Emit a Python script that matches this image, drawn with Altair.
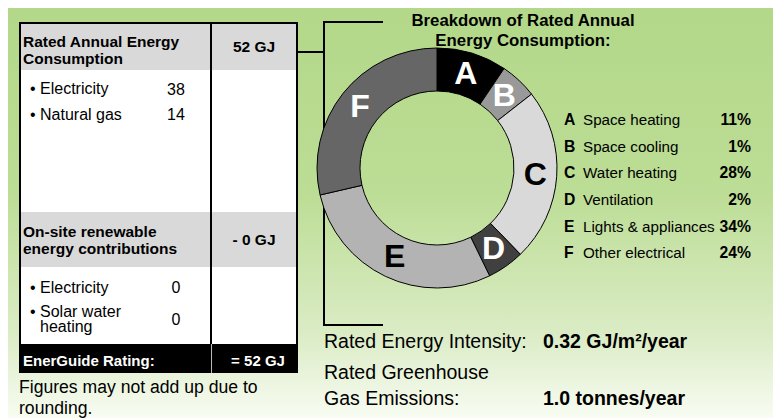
import altair as alt
import pandas as pd

# ---------------- data ----------------
letters = ["A", "B", "C", "D", "E", "F"]
uses = ["Space heating", "Space cooling", "Water heating", "Ventilation",
        "Lights & appliances", "Other electrical"]
pcts = [11, 1, 28, 2, 34, 24]
# angular size of each drawn ring slice (degrees), as read from the ring
arc_share = [34, 18, 84, 18, 103, 103]

total_gj = 52
consumption_items = ["Electricity", "Natural gas"]
consumption_vals = [38, 14]
renewable_gj = 0
renewable_items = ["Electricity", "Solar water", "heating"]
renewable_vals = [0, 0]
rating_gj = 52
intensity_txt = "0.32 GJ/m²/year"
ghg_txt = "1.0 tonnes/year"

# ---------------- styles / layout ----------------
slice_fill = ["#000000", "#999999", "#d9d9d9", "#404040", "#b3b3b3", "#666666"]
letter_color = ["#ffffff", "#ffffff", "#000000", "#ffffff", "#000000", "#ffffff"]
FONT = "Liberation Sans, Arial, sans-serif"

W, H = 765, 410
xs = alt.Scale(domain=[8, 8 + W], nice=False, zero=False)
ys = alt.Scale(domain=[8 + H, 8], nice=False, zero=False)
CX, CY = 437 - 8, 168 - 8


def texts(rows, **kw):
    df = pd.DataFrame(rows, columns=["t", "x", "y"])
    return alt.Chart(df).mark_text(baseline="alphabetic", font=FONT, **kw).encode(
        x=alt.X("x:Q", scale=xs, axis=None),
        y=alt.Y("y:Q", scale=ys, axis=None),
        text="t:N")


def rules(rows, **kw):
    df = pd.DataFrame(rows, columns=["x", "x2", "y", "y2"])
    return alt.Chart(df).mark_rule(**kw).encode(
        x=alt.X("x:Q", scale=xs, axis=None), x2="x2:Q",
        y=alt.Y("y:Q", scale=ys, axis=None), y2="y2:Q")


bg = alt.Chart(pd.DataFrame({"k": [0]})).mark_rect(
    color=alt.LinearGradient(
        gradient="linear", x1=0, x2=0, y1=0, y2=1,
        stops=[alt.GradientStop(offset=0, color="#b3d889"),
               alt.GradientStop(offset=0.45, color="#bcdd95"),
               alt.GradientStop(offset=0.8, color="#dbecc6"),
               alt.GradientStop(offset=1, color="#f8fcf2")])
).encode(x=alt.value(0), x2=alt.value(W), y=alt.value(0), y2=alt.value(H))

cells = pd.DataFrame([
    (20, 297, 22, 344, "#ffffff"),
    (20, 297, 22, 70, "#d9d9d9"),
    (20, 297, 212, 267, "#d9d9d9"),
    (19, 298, 344, 373, "#000000"),
], columns=["x", "x2", "y", "y2", "c"])
cell_layer = alt.Chart(cells).mark_rect().encode(
    x=alt.X("x:Q", scale=xs, axis=None), x2="x2:Q",
    y=alt.Y("y:Q", scale=ys, axis=None), y2="y2:Q",
    color=alt.Color("c:N", scale=None))

line_layer = rules([
    (19, 298, 23, 23),
    (20, 20, 22, 373),
    (297, 297, 22, 373),
    (211, 211, 22, 344),
    (297, 325, 52, 52),
    (324, 324, 22, 326),
    (323, 383, 22, 22),
    (323, 383, 325, 325),
], color="black", strokeWidth=2)
div = rules([(211.5, 211.5, 344, 373)], color="#bbbbbb", strokeWidth=1)

ring = pd.DataFrame({"letter": letters, "share": arc_share,
                     "ord": list(range(6)), "fill": slice_fill,
                     "lc": letter_color})
arcs = alt.Chart(ring).mark_arc(radius=120, radius2=77, stroke="black",
                                strokeWidth=1).encode(
    theta=alt.Theta("share:Q", stack=True),
    order=alt.Order("ord:Q"),
    fill=alt.Fill("fill:N", scale=None),
    x=alt.value(CX), y=alt.value(CY))
arc_lbl = alt.Chart(ring).mark_text(radius=98.5, font=FONT, fontSize=32,
                                    fontWeight="bold", align="center",
                                    baseline="middle").encode(
    theta=alt.Theta("share:Q", stack=True),
    order=alt.Order("ord:Q"),
    text="letter:N",
    color=alt.Color("lc:N", scale=None),
    x=alt.value(CX), y=alt.value(CY))

TB = 15.5
tb_head = texts([("Rated Annual Energy", 23, 47), ("Consumption", 23, 64),
                 ("On-site renewable", 23, 237),
                 ("energy contributions", 23, 254)],
                fontSize=TB, fontWeight="bold", align="left", color="black")
tb_val = texts([(f"{total_gj} GJ", 254, 52), (f"- {renewable_gj} GJ", 254, 245)],
               fontSize=TB, fontWeight="bold", align="center", color="black")
tb_items = texts([("• " + consumption_items[0], 30, 94),
                  ("• " + consumption_items[1], 30, 120),
                  ("• " + renewable_items[0], 30, 293),
                  ("• " + renewable_items[1], 30, 317),
                  (renewable_items[2], 40, 332)],
                 fontSize=16, align="left", color="black")
tb_nums = texts([(str(consumption_vals[0]), 176, 95),
                 (str(consumption_vals[1]), 176, 120),
                 (str(renewable_vals[0]), 176, 293),
                 (str(renewable_vals[1]), 176, 325)],
                fontSize=16, align="center", color="black")
tb_rate_l = texts([("EnerGuide Rating:", 23, 366)], fontSize=15,
                  fontWeight="bold", align="left", color="white")
tb_rate_r = texts([(f"= {rating_gj} GJ", 258, 366)], fontSize=15,
                  fontWeight="bold", align="center", color="white")
note = texts([("Figures may not add up due to", 19, 393), ("rounding.", 19, 414)],
             fontSize=17.6, align="left", color="black")

title = texts([("Breakdown of Rated Annual", 523, 26),
               ("Energy Consumption:", 523, 46)],
              fontSize=16.8, fontWeight="bold", align="center", color="black")

rows_y = [125, 151.7, 178.3, 205, 231.7, 258.3]
LG = 15.2
leg_let = texts([(l, 564, y) for l, y in zip(letters, rows_y)],
                fontSize=LG + 0.5, fontWeight="bold", align="left", color="black")
leg_lab = texts([(u, 583, y) for u, y in zip(uses, rows_y)],
                fontSize=LG, align="left", color="black")
leg_pct = texts([(f"{p}%", 751, y) for p, y in zip(pcts, rows_y)],
                fontSize=LG + 0.5, fontWeight="bold", align="right", color="black")

bot_lab = texts([("Rated Energy Intensity:", 324, 348),
                 ("Rated Greenhouse", 324, 379),
                 ("Gas Emissions:", 324, 405)],
                fontSize=19.5, align="left", color="black")
bot_val = texts([(intensity_txt, 543, 348), (ghg_txt, 543, 405)],
                fontSize=19.5, fontWeight="bold", align="left", color="black")

chart = alt.layer(
    bg, cell_layer, line_layer, div, arcs, arc_lbl,
    tb_head, tb_val, tb_items, tb_nums, tb_rate_l, tb_rate_r, note,
    title, leg_let, leg_lab, leg_pct, bot_lab, bot_val
).properties(
    width=W, height=H, padding=0,
    autosize=alt.AutoSizeParams(type="none")
).configure_view(stroke=None)

chart.save("out.html", embed_options={"renderer": "svg", "actions": False})
